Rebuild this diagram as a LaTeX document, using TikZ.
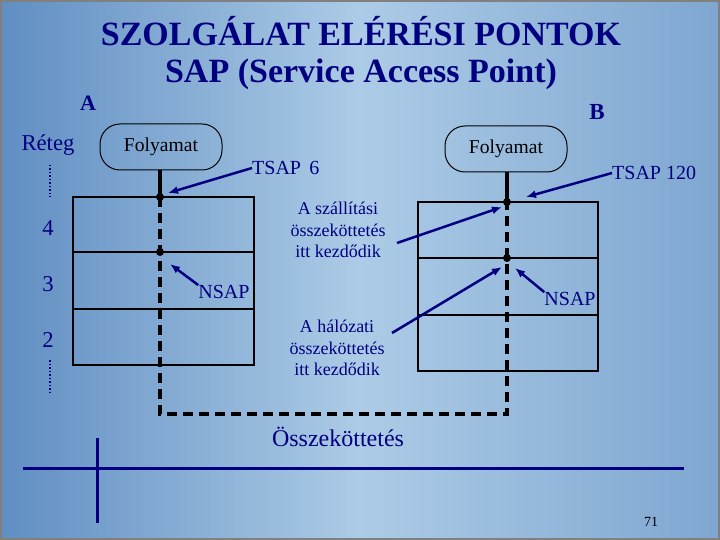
\documentclass[tikz,border=0pt]{standalone}
\usepackage{fontspec}
\setmainfont{LiberationSerif}[Extension=.ttf, UprightFont=*-Regular,
  BoldFont=*-Bold, ItalicFont=*-Italic, BoldItalicFont=*-BoldItalic]
\usetikzlibrary{arrows.meta, positioning}
\definecolor{sapblue}{RGB}{0,0,128}
\definecolor{bgdark}{RGB}{96,142,194}
\definecolor{bglight}{RGB}{172,203,230}
\tikzset{>={Latex[length=10pt, width=8pt]}}
\tikzset{
  saptext/.style={text=sapblue, inner sep=0pt, font=\fontsize{20}{22}\selectfont},
  notetext/.style={text=sapblue, inner sep=0pt, align=center,
    font=\fontsize{18}{21.5}\selectfont},
  procbox/.style={draw, line width=1pt, rounded corners=20pt,
    minimum width=122pt, minimum height=46pt, inner sep=0pt,
    font=\fontsize{19.6}{22}\selectfont},
  layerbox/.style={draw, line width=1.2pt},
  sapline/.style={line width=4pt},
  connline/.style={line width=4pt, dash pattern=on 10pt off 6pt},
  saparrow/.style={->, draw=sapblue, line width=2.5pt},
  dotline/.style={draw=sapblue, line width=1.5pt, dotted},
}

\begin{document}
\begin{tikzpicture}[x=1pt, y=-1pt]
    % slide background
    \shade[left color=bgdark, right color=bgdark!60!bglight, middle color=bglight]
      (0, 0) rectangle (720, 540);
    \draw[gray, line width=2pt] (1, 1) rectangle (719, 539);
    \useasboundingbox (0, 0) rectangle (720, 540);

    % title
    \node[text=sapblue, inner sep=0pt, align=center,
      font=\fontsize{34}{37}\selectfont\bfseries] (title) at (361, 53)
      {SZOLGÁLAT ELÉRÉSI PONTOK\\SAP (Service Access Point)};
    \node[text=sapblue, inner sep=0pt, font=\fontsize{22}{24}\selectfont\bfseries]
      (sideA) at (88, 103) {A};
    \node[text=sapblue, inner sep=0pt, font=\fontsize{23}{24}\selectfont\bfseries]
      (sideB) at (597, 112) {B};

    % layer numbers
    \begin{scope}[every node/.style={text=sapblue, inner sep=0pt,
        font=\fontsize{22.7}{24}\selectfont}]
      \node (layers) at (48, 145) {Réteg};
      \node (four) at (48, 228) {4};
      \node (three) at (48, 284) {3};
      \node (two) at (48, 340) {2};
    \end{scope}
    \draw[dotline] (50, 165) -- (50, 197);
    \draw[dotline] (50, 360) -- (50, 393);

    % layer stacks
    \begin{scope}[layerbox]
      \draw (73, 197) rectangle (254, 365);
      \draw (73, 252) -- (254, 252);
      \draw (73, 309) -- (254, 309);
      \draw (418, 202) rectangle (598, 371);
      \draw (418, 258) -- (598, 258);
      \draw (418, 315) -- (598, 315);
    \end{scope}

    % processes
    \node[procbox] (procA) at (161, 147) {Folyamat};
    \node[procbox] (procB) at (506, 149) {Folyamat};

    \coordinate (tsapA) at (160, 197);
    \coordinate (nsapA) at (160, 252);
    \coordinate (tsapB) at (507, 202);
    \coordinate (nsapB) at (507, 258);
    \coordinate (connA) at (160, 414);
    \coordinate (connB) at (507, 414);

    \draw[sapline] (procA.south -| tsapA) -- (tsapA);
    \draw[sapline] (procB.south -| tsapB) -- (tsapB);
    \draw[connline] (tsapA) -- (connA) -- (connB) -- (tsapB);
    \foreach \p in {tsapA, nsapA, tsapB, nsapB}
    {
      \fill (\p) circle (4pt);
    }

    % access point labels
    \node[saptext, anchor=west] (tsapAtext) at (252, 168) {TSAP\, 6};
    \node[saptext, anchor=west] (tsapBtext) at (612, 173) {TSAP 120};
    \node[saptext] (nsapAtext) at (224, 292) {NSAP};
    \node[saptext] (nsapBtext) at (570, 299) {NSAP};
    \node[notetext] (transport) at (338, 230)
      {A szállítási\\összeköttetés\\itt kezdődik};
    \node[notetext] (network) at (337, 348)
      {A hálózati\\összeköttetés\\itt kezdődik};

    \draw[saparrow] (tsapAtext.west) -- (168, 193);
    \draw[saparrow] (tsapBtext.west) -- (526, 197);
    \draw[saparrow] (397, 243) -- (502, 207);
    \draw[saparrow] (nsapAtext.north west) -- (170, 264);
    \draw[saparrow] (nsapBtext.north west) -- (515, 268);
    \draw[saparrow] (392, 333) -- (502, 267);

    % connection
    \node[text=sapblue, inner sep=0pt, font=\fontsize{24}{26}\selectfont]
      (conn) at (338, 437) {Összeköttetés};
    \draw[sapblue, line width=3pt] (23, 468) -- (684, 468);
    \draw[sapblue, line width=3pt] (97, 438) -- (97, 523);
    \node[inner sep=0pt, font=\fontsize{14}{16}\selectfont] (page) at (651, 522) {71};
\end{tikzpicture}
\end{document}
